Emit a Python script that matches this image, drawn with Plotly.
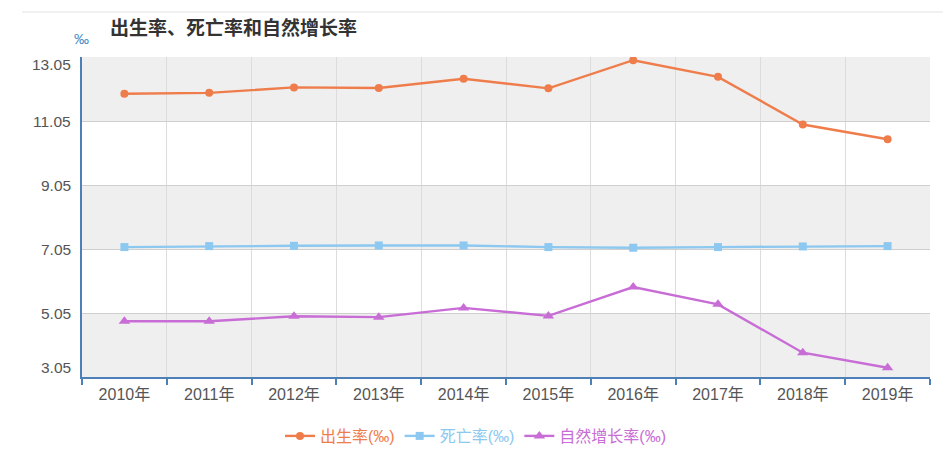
import plotly.graph_objects as go

years = ["2010年", "2011年", "2012年", "2013年", "2014年", "2015年", "2016年", "2017年", "2018年", "2019年"]
birth_rate = [11.90, 11.93, 12.10, 12.08, 12.37, 12.07, 12.95, 12.43, 10.94, 10.48]
death_rate = [7.11, 7.14, 7.15, 7.16, 7.16, 7.11, 7.09, 7.11, 7.13, 7.14]
natural_rate = [4.79, 4.79, 4.95, 4.92, 5.21, 4.96, 5.86, 5.32, 3.81, 3.34]
y_ticks = [3.05, 5.05, 7.05, 9.05, 11.05, 13.05]

c_birth = "#ef7d4b"
c_death = "#8cc8f0"
c_nat = "#c86dd5"
font_family = "Liberation Sans, Arial, Noto Sans CJK SC, sans-serif"

W, H = 951, 452
OFF = 8  # page body margin
# plot area in screen pixels
X0, X1, Y0, Y1 = 82, 930, 57, 377
ML, MR = X0 - OFF, W - (X1 - OFF)
MT, MB = Y0 - OFF, H - (Y1 - OFF)
PW, PH = W - ML - MR, H - MT - MB

def px_x(x):
    return (x - OFF - ML) / PW

def px_y(y):
    return (H - MB - (y - OFF)) / PH

fig = go.Figure()
series = [
    ("出生率(‰)", birth_rate, c_birth, "circle", 8),
    ("死亡率(‰)", death_rate, c_death, "square", 8),
    ("自然增长率(‰)", natural_rate, c_nat, "triangle-up", 10),
]
for name, vals, col, sym, sz in series:
    fig.add_trace(go.Scatter(
        x=years, y=vals, mode="lines+markers",
        name=f"<span style='color:{col}'>{name}</span>",
        line=dict(color=col, width=2.4),
        marker=dict(symbol=sym, size=sz, color=col),
    ))

# alternating bands
shapes = []
for i in range(len(y_ticks) - 1):
    if (len(y_ticks) - 2 - i) % 2 == 0:
        shapes.append(dict(type="rect", xref="paper", yref="y", x0=0, x1=1,
                           y0=y_ticks[i], y1=y_ticks[i + 1],
                           fillcolor="#efefef", line=dict(width=0), layer="below"))
# top decorative line
shapes.append(dict(type="line", xref="paper", yref="paper", x0=px_x(22), x1=px_x(951),
                   y0=px_y(12), y1=px_y(12), line=dict(color="#e3e3e3", width=1)))

annotations = []
for i, v in enumerate(y_ticks):
    shift = 0
    if i == 0:
        shift = 10
    elif i == len(y_ticks) - 1:
        shift = -7
    annotations.append(dict(x=0, xref="paper", y=v, yref="y", text=f"{v:.2f}",
                            showarrow=False, xanchor="right", xshift=-9, yshift=shift,
                            font=dict(size=15.5, color="#555555", family=font_family)))
annotations.append(dict(x=px_x(108), xref="paper", y=px_y(28), yref="paper",
                        text="<b>出生率、死亡率和自然增长率</b>",
                        showarrow=False, xanchor="left", yanchor="middle",
                        font=dict(size=19, color="#333333", family=font_family)))
annotations.append(dict(x=px_x(81), xref="paper", y=px_y(38), yref="paper", text="‰",
                        showarrow=False, xanchor="center", yanchor="middle",
                        font=dict(size=15, color="#4a90c8", family=font_family)))

fig.update_layout(
    width=W, height=H,
    margin=dict(l=ML, r=MR, t=MT, b=MB, autoexpand=False),
    paper_bgcolor="white", plot_bgcolor="white",
    font=dict(family=font_family, size=14, color="#555555"),
    showlegend=True,
    legend=dict(orientation="h", x=px_x(476), xanchor="center", y=px_y(436), yanchor="middle",
                font=dict(size=16), traceorder="normal", itemwidth=30),
    shapes=shapes, annotations=annotations,
    xaxis=dict(type="category", tickson="boundaries", showgrid=True, gridcolor="#dcdcdc",
               gridwidth=1, showline=True, linecolor="#4d7fb8", linewidth=2,
               ticks="outside", ticklen=6, tickcolor="#4d7fb8", tickwidth=1.5,
               ticklabelstandoff=2,
               tickfont=dict(size=16, color="#555555"), range=[-0.5, 9.5]),
    yaxis=dict(range=[3.05, 13.05], tickvals=y_ticks, showticklabels=False,
               showgrid=True, gridcolor="#cfcfcf", gridwidth=1.2, zeroline=False,
               showline=True, linecolor="#4d7fb8", linewidth=2),
)

fig.write_html("out.html")
